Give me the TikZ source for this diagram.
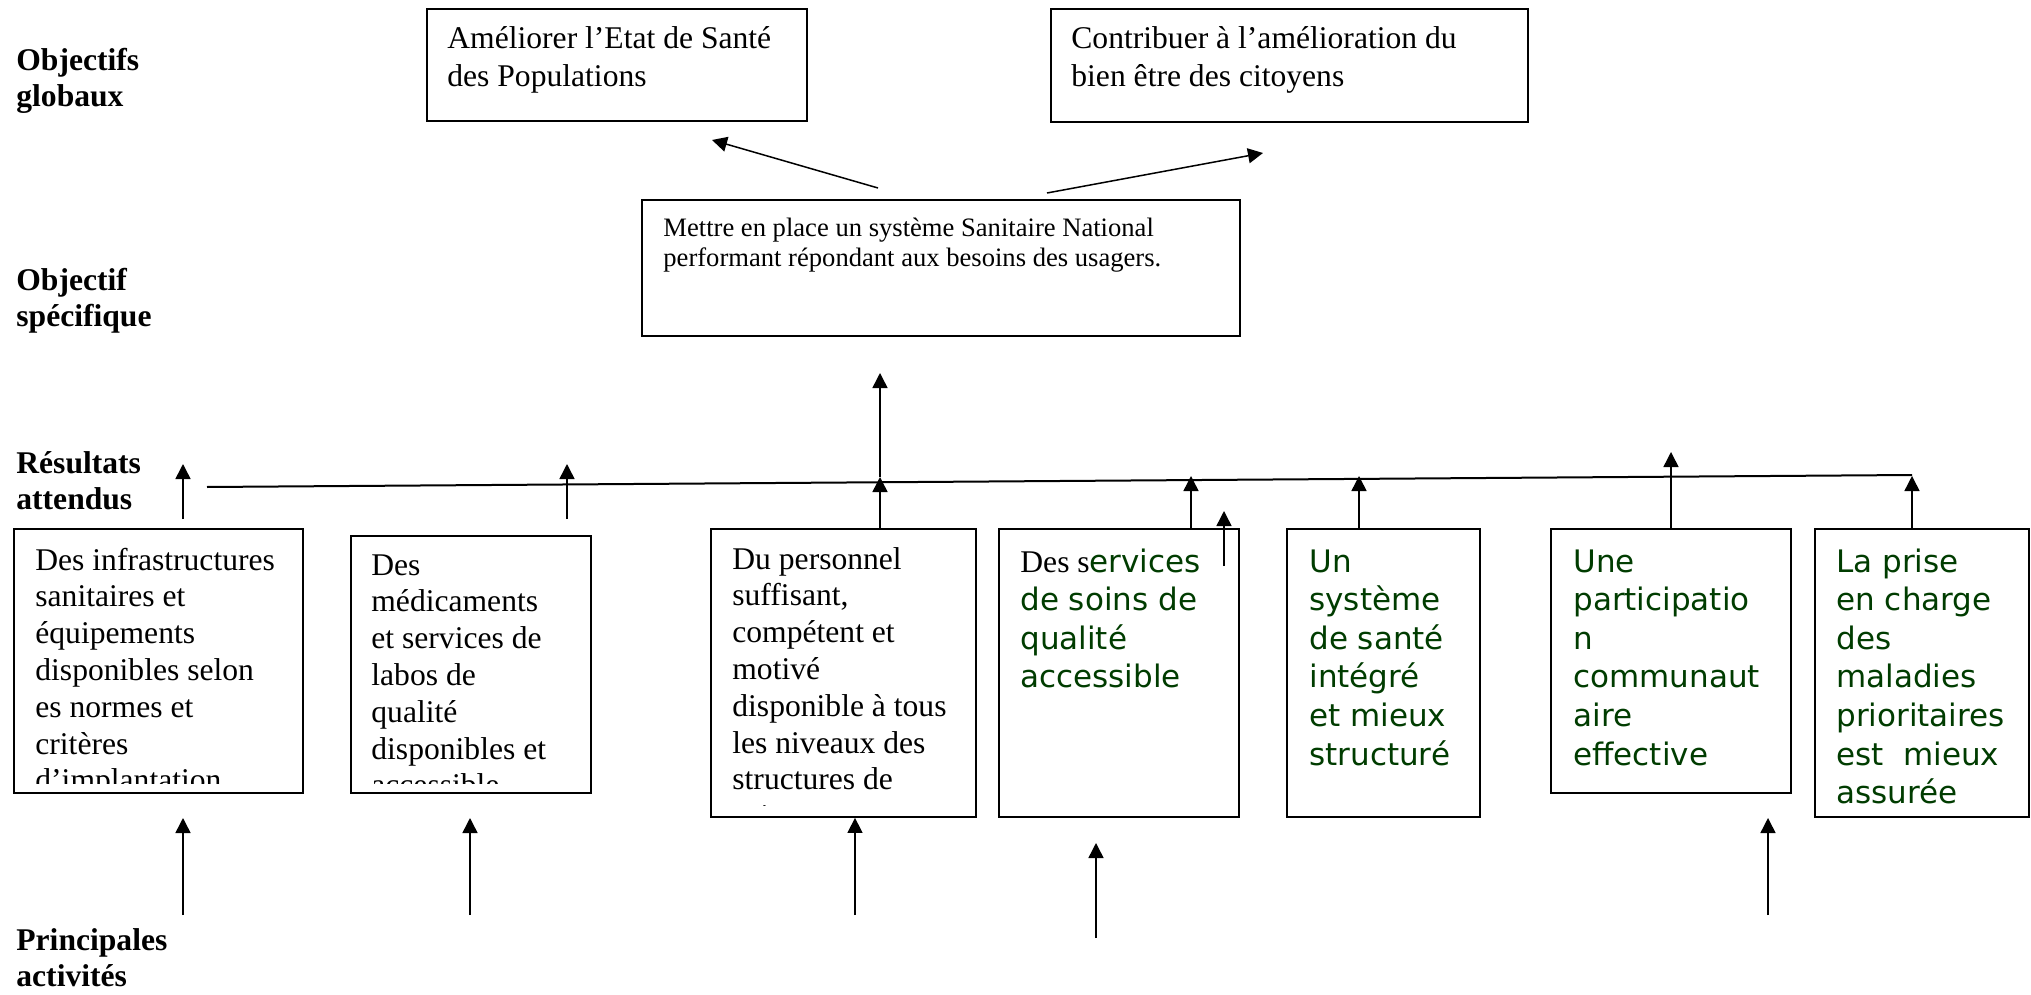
\documentclass[tikz,border=0pt]{standalone}
\usepackage{fontspec}
\setmainfont{Liberation Serif}
\newfontfamily\vsans{DejaVu Sans}
\usetikzlibrary{arrows.meta,fit}
\definecolor{dgreen}{RGB}{0,60,0}
\newcommand\mylines[1]{\begin{tabular}[t]{@{}l@{}}#1\end{tabular}}
\begin{document}
\begin{tikzpicture}[x=0.5pt,y=-0.5pt,
  box/.style={draw, line width=0.9pt, inner sep=0pt},
  txt/.style={anchor=base west, inner sep=0pt, font=\fontsize{15.8}{18.4}\selectfont},
  toptxt/.style={anchor=base west, inner sep=0pt, font=\fontsize{15.8}{18.8}\selectfont},
  smalltxt/.style={anchor=base west, inner sep=0pt, font=\fontsize{13.3}{15}\selectfont},
  gtxt/.style={anchor=base west, inner sep=0pt, text=dgreen, font=\vsans\fontsize{15.5}{19.3}\selectfont},
  lbl/.style={anchor=base west, inner sep=0pt, font=\fontsize{15.8}{18}\selectfont\bfseries},
  arr/.style={-{Triangle[width=7.5pt,length=7.5pt]}, line width=0.75pt}]
\useasboundingbox (0,0) rectangle (2031,995);

% left labels
\node[lbl] (lg) at (16,71) {\mylines{Objectifs\\globaux}};
\node[lbl] (ls) at (16,290) {\mylines{Objectif\\spécifique}};
\node[lbl] (lr) at (16,473) {\mylines{Résultats\\attendus}};
\node[lbl] (lp) at (16,950) {\mylines{Principales\\activités}};

% top boxes
\node[box, fit={(427,9) (807,121)}] (A) {};
\node[toptxt] (tA) at (447,49) {\mylines{Améliorer l’Etat de Santé\\des Populations}};
\node[box, fit={(1051,9) (1528,122)}] (B) {};
\node[toptxt] (tB) at (1071,49) {\mylines{Contribuer à l’amélioration du\\bien être des citoyens}};
\node[box, fit={(642,200) (1240,336)}] (C) {};
\node[smalltxt] (tC) at (663,236) {\mylines{Mettre en place un système Sanitaire National\\performant répondant aux besoins des usagers.}};

% result boxes
\node[box, fit={(14,529) (303,793)}] (b1) {};
\begin{scope}
\clip (14,529) rectangle (303,783);
\node[txt] (t1) at (35,570) {\mylines{Des infrastructures\\sanitaires et\\équipements\\disponibles selon\\es normes et\\critères\\d’implantation}};
\end{scope}
\node[box, fit={(351,536) (591,793)}] (b2) {};
\begin{scope}
\clip (351,536) rectangle (591,783);
\node[txt] (t2) at (371,575) {\mylines{Des\\médicaments\\et services de\\labos de\\qualité\\disponibles et\\accessible}};
\end{scope}
\node[box, fit={(711,529) (976,817)}] (b3) {};
\begin{scope}
\clip (711,529) rectangle (976,805);
\node[txt] (t3) at (732,569) {\mylines{Du personnel\\suffisant,\\compétent et\\motivé\\disponible à tous\\les niveaux des\\structures de\\soins}};
\end{scope}
\node[box, fit={(999,529) (1239,817)}] (b4) {};
\node[gtxt] (t4) at (1020,572) {\mylines{{\rmfamily\fontsize{15.8}{18.4}\selectfont\color{black}Des s}ervices\\de soins de\\qualité\\accessible}};
\node[box, fit={(1287,529) (1480,817)}] (b5) {};
\node[gtxt] (t5) at (1309,572) {\mylines{Un\\système\\de santé\\intégré\\et mieux\\structuré}};
\node[box, fit={(1551,529) (1791,793)}] (b6) {};
\node[gtxt] (t6) at (1573,572) {\mylines{Une\\participatio\\n\\communaut\\aire\\effective}};
\node[box, fit={(1815,529) (2029,817)}] (b7) {};
\node[gtxt] (t7) at (1836,572) {\mylines{La prise\\en charge\\des\\maladies\\prioritaires\\est\ \ mieux\\assurée}};

% arrows from C to global objectives
\coordinate (pL) at (878,188); \coordinate (qL) at (712,140);
\coordinate (pR) at (1047,193); \coordinate (qR) at (1263,153);
\draw[arr] (pL) -- (qL);
\draw[arr] (pR) -- (qR);

% horizontal collecting line
\coordinate (hl1) at (207,487); \coordinate (hl2) at (1912,475);
\draw[line width=1pt] (hl1) -- (hl2);

% arrows above result boxes
\coordinate (u1a) at (183,519); \coordinate (u1b) at (183,464);
\draw[arr] (u1a) -- (u1b);
\coordinate (u2a) at (567,519); \coordinate (u2b) at (567,464);
\draw[arr] (u2a) -- (u2b);
\coordinate (u3) at (880,477); \coordinate (cIn) at (880,373);
\draw[arr] (b3.north -| u3) -- (u3);
\draw[arr] (u3) -- (cIn);
\coordinate (u4) at (1191,476);
\draw[arr] (b4.north -| u4) -- (u4);
\coordinate (u4xa) at (1224,566); \coordinate (u4xb) at (1224,511);
\draw[arr] (u4xa) -- (u4xb);
\coordinate (u5) at (1359,476);
\draw[arr] (b5.north -| u5) -- (u5);
\coordinate (u6) at (1671,452);
\draw[arr] (b6.north -| u6) -- (u6);
\coordinate (u7) at (1912,476);
\draw[arr] (b7.north -| u7) -- (u7);

% arrows from activities
\coordinate (d1a) at (183,915); \coordinate (d1b) at (183,818);
\draw[arr] (d1a) -- (d1b);
\coordinate (d2a) at (470,915); \coordinate (d2b) at (470,818);
\draw[arr] (d2a) -- (d2b);
\coordinate (d3a) at (855,915);
\draw[arr] (d3a) -- (d3a |- b3.south);
\coordinate (d4a) at (1096,938); \coordinate (d4b) at (1096,843);
\draw[arr] (d4a) -- (d4b);
\coordinate (d6a) at (1768,915); \coordinate (d6b) at (1768,818);
\draw[arr] (d6a) -- (d6b);
\end{tikzpicture}
\end{document}
